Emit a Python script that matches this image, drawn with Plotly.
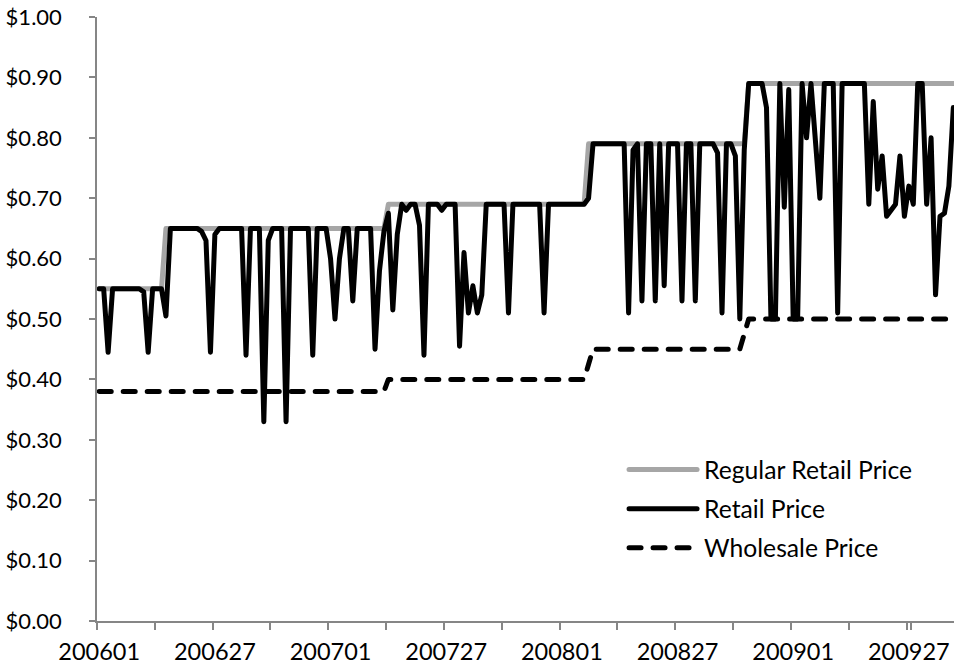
import plotly.graph_objects as go

# ---- data (weekly, 200601 .. 200937) ----
weeks = [f"{y}{w:02d}" for y in (2006, 2007, 2008, 2009) for w in range(1, 53)][:193]

regular_price = [
    0.55, 0.55, 0.55, 0.55, 0.55, 0.55, 0.55, 0.55, 0.55, 0.55,
    0.55, 0.55, 0.55, 0.55, 0.55, 0.65, 0.65, 0.65, 0.65, 0.65,
    0.65, 0.65, 0.65, 0.65, 0.65, 0.65, 0.65, 0.65, 0.65, 0.65,
    0.65, 0.65, 0.65, 0.65, 0.65, 0.65, 0.65, 0.65, 0.65, 0.65,
    0.65, 0.65, 0.65, 0.65, 0.65, 0.65, 0.65, 0.65, 0.65, 0.65,
    0.65, 0.65, 0.65, 0.65, 0.65, 0.65, 0.65, 0.65, 0.65, 0.65,
    0.65, 0.65, 0.65, 0.65, 0.65, 0.69, 0.69, 0.69, 0.69, 0.69,
    0.69, 0.69, 0.69, 0.69, 0.69, 0.69, 0.69, 0.69, 0.69, 0.69,
    0.69, 0.69, 0.69, 0.69, 0.69, 0.69, 0.69, 0.69, 0.69, 0.69,
    0.69, 0.69, 0.69, 0.69, 0.69, 0.69, 0.69, 0.69, 0.69, 0.69,
    0.69, 0.69, 0.69, 0.69, 0.69, 0.69, 0.69, 0.69, 0.69, 0.69,
    0.79, 0.79, 0.79, 0.79, 0.79, 0.79, 0.79, 0.79, 0.79, 0.79,
    0.79, 0.79, 0.79, 0.79, 0.79, 0.79, 0.79, 0.79, 0.79, 0.79,
    0.79, 0.79, 0.79, 0.79, 0.79, 0.79, 0.79, 0.79, 0.79, 0.79,
    0.79, 0.79, 0.79, 0.79, 0.79, 0.79, 0.89, 0.89, 0.89, 0.89,
    0.89, 0.89, 0.89, 0.89, 0.89, 0.89, 0.89, 0.89, 0.89, 0.89,
    0.89, 0.89, 0.89, 0.89, 0.89, 0.89, 0.89, 0.89, 0.89, 0.89,
    0.89, 0.89, 0.89, 0.89, 0.89, 0.89, 0.89, 0.89, 0.89, 0.89,
    0.89, 0.89, 0.89, 0.89, 0.89, 0.89, 0.89, 0.89, 0.89, 0.89,
    0.89, 0.89, 0.89,
]

retail_price = [
    0.55, 0.55, 0.445, 0.55, 0.55, 0.55, 0.55, 0.55, 0.55, 0.55,
    0.545, 0.445, 0.55, 0.55, 0.55, 0.505, 0.65, 0.65, 0.65, 0.65,
    0.65, 0.65, 0.65, 0.645, 0.63, 0.445, 0.64, 0.65, 0.65, 0.65,
    0.65, 0.65, 0.65, 0.44, 0.65, 0.65, 0.65, 0.33, 0.63, 0.65,
    0.65, 0.65, 0.33, 0.65, 0.65, 0.65, 0.65, 0.65, 0.44, 0.65,
    0.65, 0.65, 0.60, 0.50, 0.60, 0.65, 0.65, 0.53, 0.65, 0.65,
    0.65, 0.65, 0.45, 0.58, 0.645, 0.675, 0.515, 0.64, 0.69, 0.68,
    0.69, 0.69, 0.655, 0.44, 0.69, 0.69, 0.69, 0.68, 0.69, 0.69,
    0.69, 0.455, 0.61, 0.51, 0.555, 0.51, 0.54, 0.69, 0.69, 0.69,
    0.69, 0.69, 0.51, 0.69, 0.69, 0.69, 0.69, 0.69, 0.69, 0.69,
    0.51, 0.69, 0.69, 0.69, 0.69, 0.69, 0.69, 0.69, 0.69, 0.69,
    0.70, 0.79, 0.79, 0.79, 0.79, 0.79, 0.79, 0.79, 0.79, 0.51,
    0.78, 0.79, 0.53, 0.79, 0.79, 0.53, 0.79, 0.555, 0.79, 0.79,
    0.79, 0.53, 0.79, 0.79, 0.53, 0.79, 0.79, 0.79, 0.79, 0.775,
    0.51, 0.79, 0.79, 0.77, 0.50, 0.78, 0.89, 0.89, 0.89, 0.89,
    0.85, 0.50, 0.50, 0.89, 0.685, 0.88, 0.50, 0.50, 0.89, 0.80,
    0.89, 0.80, 0.70, 0.89, 0.89, 0.89, 0.51, 0.89, 0.89, 0.89,
    0.89, 0.89, 0.89, 0.69, 0.86, 0.715, 0.77, 0.67, 0.68, 0.69,
    0.77, 0.67, 0.72, 0.69, 0.89, 0.89, 0.69, 0.80, 0.54, 0.67,
    0.675, 0.72, 0.85,
]

wholesale_price = [
    0.38, 0.38, 0.38, 0.38, 0.38, 0.38, 0.38, 0.38, 0.38, 0.38,
    0.38, 0.38, 0.38, 0.38, 0.38, 0.38, 0.38, 0.38, 0.38, 0.38,
    0.38, 0.38, 0.38, 0.38, 0.38, 0.38, 0.38, 0.38, 0.38, 0.38,
    0.38, 0.38, 0.38, 0.38, 0.38, 0.38, 0.38, 0.38, 0.38, 0.38,
    0.38, 0.38, 0.38, 0.38, 0.38, 0.38, 0.38, 0.38, 0.38, 0.38,
    0.38, 0.38, 0.38, 0.38, 0.38, 0.38, 0.38, 0.38, 0.38, 0.38,
    0.38, 0.38, 0.38, 0.38, 0.38, 0.40, 0.40, 0.40, 0.40, 0.40,
    0.40, 0.40, 0.40, 0.40, 0.40, 0.40, 0.40, 0.40, 0.40, 0.40,
    0.40, 0.40, 0.40, 0.40, 0.40, 0.40, 0.40, 0.40, 0.40, 0.40,
    0.40, 0.40, 0.40, 0.40, 0.40, 0.40, 0.40, 0.40, 0.40, 0.40,
    0.40, 0.40, 0.40, 0.40, 0.40, 0.40, 0.40, 0.40, 0.40, 0.40,
    0.425, 0.45, 0.45, 0.45, 0.45, 0.45, 0.45, 0.45, 0.45, 0.45,
    0.45, 0.45, 0.45, 0.45, 0.45, 0.45, 0.45, 0.45, 0.45, 0.45,
    0.45, 0.45, 0.45, 0.45, 0.45, 0.45, 0.45, 0.45, 0.45, 0.45,
    0.45, 0.45, 0.45, 0.45, 0.45, 0.475, 0.50, 0.50, 0.50, 0.50,
    0.50, 0.50, 0.50, 0.50, 0.50, 0.50, 0.50, 0.50, 0.50, 0.50,
    0.50, 0.50, 0.50, 0.50, 0.50, 0.50, 0.50, 0.50, 0.50, 0.50,
    0.50, 0.50, 0.50, 0.50, 0.50, 0.50, 0.50, 0.50, 0.50, 0.50,
    0.50, 0.50, 0.50, 0.50, 0.50, 0.50, 0.50, 0.50, 0.50, 0.50,
    0.50, 0.50, 0.50,
]

series_names = ["Regular Retail Price", "Retail Price", "Wholesale Price"]

# tick labels every 26 weeks, tick marks every 13 weeks
tick_weeks = weeks[::13]
tick_text = [w if k % 2 == 0 else "" for k, w in enumerate(tick_weeks)]

FONT = "Lato"
AXIS_COLOR = "#868686"
LW = 5

fig = go.Figure()
fig.add_trace(go.Scatter(x=weeks, y=regular_price, name=series_names[0], mode="lines",
                         legendgroup="g1", line=dict(color="#A6A6A6", width=LW)))
fig.add_trace(go.Scatter(x=weeks, y=retail_price, name=series_names[1], mode="lines",
                         legendgroup="g2", line=dict(color="#000000", width=LW)))
fig.add_trace(go.Scatter(x=weeks, y=wholesale_price, name=series_names[2], mode="lines",
                         legendgroup="g3", line=dict(color="#000000", width=LW, dash="12px,12px")))

fig.update_layout(
    width=954, height=670,
    margin=dict(l=97, r=0, t=17, b=49, autoexpand=False),
    paper_bgcolor="white", plot_bgcolor="white",
    font=dict(family=FONT, size=22, color="#000000"),
    showlegend=True,
    legend=dict(x=0.615, y=0.288, xanchor="left", yanchor="top",
                bgcolor="rgba(0,0,0,0)", font=dict(family=FONT, size=24.7, color="#000000"),
                itemwidth=70, tracegroupgap=4),
    xaxis=dict(type="category", categoryorder="array", categoryarray=weeks,
               range=[-0.5, 192.15], showgrid=False, zeroline=False, automargin=False,
               showline=True, linecolor=AXIS_COLOR, linewidth=1.5,
               ticks="outside", ticklen=7, tickwidth=1.5, tickcolor=AXIS_COLOR,
               tickson="boundaries", tickmode="array", tickvals=tick_weeks, ticktext=tick_text,
               tickangle=0, ticklabelstandoff=9,
               tickfont=dict(family=FONT, size=23.5, color="#000000")),
    yaxis=dict(range=[0, 1], dtick=0.1, tick0=0, tickformat="$.2f",
               showgrid=False, zeroline=False, automargin=False,
               showline=True, linecolor=AXIS_COLOR, linewidth=1.5,
               ticks="outside", ticklen=6, tickwidth=1.5, tickcolor=AXIS_COLOR,
               ticklabelstandoff=23,
               tickfont=dict(family=FONT, size=22, color="#000000")),
)

post = """
document.documentElement.style.margin='0';
document.body.style.margin='0';
document.body.style.padding='0';
document.body.style.overflow='hidden';
var gd = document.getElementById('{plot_id}');
function fixLines(){
  gd.querySelectorAll('.scatterlayer .js-line').forEach(function(p){
    p.style.strokeLinejoin='round'; p.style.strokeLinecap='round';
  });
  gd.querySelectorAll('.legend .legendlines .js-line').forEach(function(p){
    p.setAttribute('d','M5,0h68'); p.style.strokeLinecap='round';
  });
}
fixLines();
gd.on('plotly_afterplot', fixLines);
"""

fig.write_html("out.html", post_script=post, config={"displayModeBar": False})
